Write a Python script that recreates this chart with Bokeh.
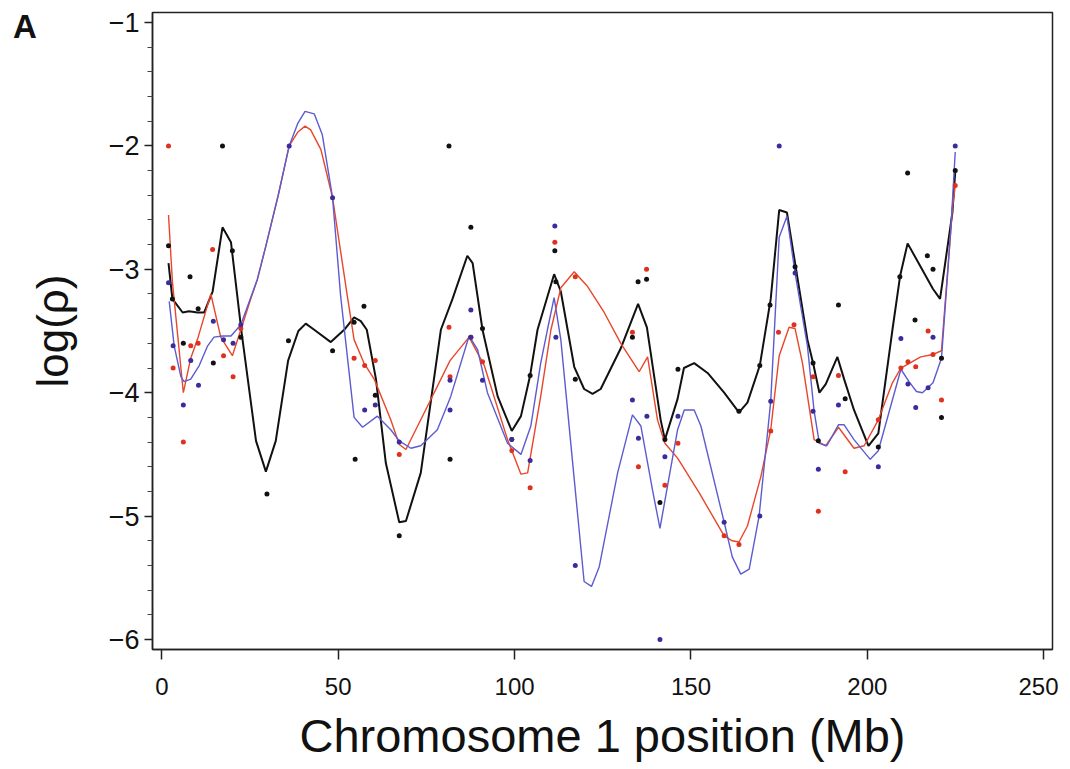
from bokeh.plotting import figure
from bokeh.models import Range1d, FixedTicker, CustomJSTickFormatter, Label
from bokeh.embed import file_html
from bokeh.resources import INLINE

# ---------------- data ----------------
x_ticks = [0, 50, 100, 150, 200, 250]
y_ticks = [-6, -5, -4, -3, -2, -1]

black_pts_x = [1.9, 3.0, 6.1, 8.0, 10.3, 14.6, 17.2, 20.0, 22.4, 29.8, 35.9, 48.4, 54.5, 54.8,
               57.3, 60.5, 67.3, 81.4, 81.7, 87.6, 90.9, 99.2, 104.4, 111.4, 111.7, 117.2,
               133.4, 135.0, 137.4, 141.2, 142.6, 146.3, 163.6, 169.5, 172.4, 179.5, 184.6,
               186.1, 191.8, 193.7, 203.1, 209.2, 211.4, 213.5, 217.0, 218.6, 221.0, 221.0, 224.9]
black_pts_y = [-2.81, -3.24, -3.60, -3.06, -3.32, -3.76, -2.00, -2.85, -3.55, -4.82, -3.58, -3.66, -3.43, -4.54,
               -3.30, -4.02, -5.16, -2.00, -4.54, -2.66, -3.48, -4.38, -3.86, -2.85, -3.10, -3.89,
               -3.55, -3.10, -3.08, -4.89, -4.38, -3.81, -4.15, -3.78, -3.29, -2.98, -3.76,
               -4.39, -3.29, -4.05, -4.44, -3.06, -2.22, -3.41, -2.89, -3.00, -3.72, -4.20, -2.20]

red_pts_x = [1.9, 3.2, 6.1, 8.2, 10.3, 14.4, 17.5, 20.2, 22.4, 54.5, 57.5, 60.5, 67.3, 81.4, 81.7,
             87.6, 90.9, 99.2, 104.4, 111.4, 117.2, 133.4, 135.1, 137.4, 142.6, 146.3, 159.4,
             163.6, 172.6, 174.8, 179.2, 184.6, 186.1, 191.8, 193.7, 203.1, 209.5, 211.5, 213.7,
             217.2, 218.6, 221.0, 224.9]
red_pts_y = [-2.00, -3.80, -4.40, -3.62, -3.60, -2.84, -3.70, -3.87, -3.48, -3.72, -3.78, -3.74, -4.50, -3.47, -3.87,
             -3.55, -3.75, -4.47, -4.77, -2.78, -3.06, -3.51, -4.60, -3.00, -4.75, -4.41, -5.16,
             -5.23, -4.31, -3.51, -3.45, -3.87, -4.96, -3.86, -4.64, -4.22, -3.80, -3.75, -3.79,
             -3.50, -3.69, -4.06, -2.32]

blue_pts_x = [1.9, 3.2, 6.1, 8.2, 10.4, 14.6, 17.5, 20.2, 22.4, 36.1, 48.4, 57.5, 60.5, 67.3, 81.7,
              81.7, 87.6, 87.6, 90.9, 99.2, 104.4, 111.4, 111.7, 117.2, 133.4, 135.1, 137.5, 141.2,
              142.6, 146.3, 159.4, 169.5, 172.6, 175.0, 179.5, 184.6, 186.1, 191.8, 203.1, 209.5,
              211.5, 213.7, 217.2, 218.6, 224.9]
blue_pts_y = [-3.11, -3.62, -4.10, -3.74, -3.94, -3.42, -3.57, -3.60, -3.45, -2.00, -2.42, -4.14, -4.10, -4.40, -3.90,
              -4.14, -3.33, -3.55, -3.90, -4.38, -4.55, -2.65, -3.55, -5.40, -4.06, -4.37, -4.19, -6.00,
              -4.52, -4.19, -5.05, -5.00, -4.07, -2.00, -3.03, -4.15, -4.62, -4.10, -4.60, -3.56,
              -3.93, -4.12, -3.96, -3.55, -2.00]

black_line_x = [1.9, 3.0, 5.9, 7.7, 10.1, 12.0, 14.4, 17.2, 19.6, 22.6, 26.7, 29.5, 32.3, 35.8, 38.7,
                40.8, 43.2, 47.9, 51.7, 54.5, 56.4, 58.1, 60.7, 63.5, 67.3, 69.2, 73.4, 79.1, 82.4,
                86.6, 88.1, 90.9, 95.2, 99.2, 101.8, 104.4, 106.5, 111.2, 113.1, 116.9, 119.7, 122.1,
                124.4, 130.1, 135.0, 137.5, 141.4, 142.6, 146.2, 148.0, 150.9, 154.7, 159.4, 163.6,
                166.0, 169.5, 172.6, 175.0, 177.2, 179.5, 183.0, 184.6, 186.4, 188.2, 191.5, 193.4,
                196.2, 200.3, 203.1, 207.1, 209.3, 211.4, 218.6, 220.6, 224.1, 224.9]
black_line_y = [-2.95, -3.24, -3.35, -3.34, -3.35, -3.35, -3.18, -2.66, -2.78, -3.51, -4.39, -4.64, -4.39, -3.74, -3.50,
                -3.44, -3.49, -3.59, -3.49, -3.39, -3.42, -3.49, -3.89, -4.57, -5.05, -5.04, -4.65, -3.49, -3.24,
                -2.89, -2.95, -3.49, -4.03, -4.31, -4.19, -3.86, -3.49, -3.04, -3.18, -3.79, -3.97, -4.01,
                -3.97, -3.64, -3.28, -3.47, -4.22, -4.38, -4.05, -3.80, -3.76, -3.84, -4.00, -4.16,
                -4.08, -3.78, -3.24, -2.52, -2.54, -2.95, -3.57, -3.76, -4.00, -3.93, -3.71, -3.89,
                -4.14, -4.43, -4.33, -3.49, -3.05, -2.79, -3.16, -3.24, -2.54, -2.21]

red_line_x = [1.9, 3.0, 6.1, 8.2, 10.3, 13.9, 16.7, 20.0, 22.4, 25.2, 27.1, 29.5, 33.0, 36.1, 38.5, 40.6,
              42.2, 45.1, 48.4, 52.6, 54.5, 57.3, 60.2, 64.9, 67.3, 69.2, 75.3, 81.7, 87.1, 91.4,
              98.0, 101.8, 103.7, 107.4, 110.3, 113.1, 116.9, 120.7, 125.4, 130.1, 135.3, 137.7,
              140.5, 142.6, 146.2, 152.3, 159.4, 161.7, 163.6, 166.0, 169.8, 172.6, 175.0, 177.8,
              179.5, 181.6, 184.9, 188.2, 191.8, 196.2, 199.1, 203.1, 207.1, 209.5, 215.1, 218.6,
              221.0, 224.1, 224.9]
red_line_y = [-2.56, -3.10, -4.00, -3.72, -3.55, -3.20, -3.55, -3.70, -3.49, -3.24, -3.08, -2.81, -2.40, -2.00, -1.89, -1.84,
              -1.87, -2.03, -2.42, -3.22, -3.57, -3.76, -3.89, -4.22, -4.42, -4.46, -4.11, -3.74, -3.55, -3.78,
              -4.38, -4.66, -4.65, -4.03, -3.49, -3.15, -3.02, -3.14, -3.35, -3.60, -3.83, -3.71,
              -4.22, -4.41, -4.53, -4.81, -5.16, -5.20, -5.21, -5.08, -4.68, -4.30, -3.70, -3.47,
              -3.48, -3.76, -4.38, -4.43, -4.28, -4.45, -4.43, -4.22, -3.92, -3.80, -3.71, -3.69,
              -3.66, -2.51, -2.32]

blue_line_x = [2.1, 3.5, 5.4, 6.3, 8.2, 10.6, 13.0, 14.8, 17.2, 19.6, 22.4, 27.1, 29.5, 33.0, 36.1, 38.5,
               40.6, 43.2, 45.5, 48.4, 50.7, 54.5, 56.9, 61.1, 64.9, 67.3, 70.6, 73.4, 78.1, 81.9,
               87.1, 89.5, 92.3, 98.0, 101.8, 104.6, 107.4, 109.3, 111.2, 113.1, 116.9, 119.7, 121.8,
               124.0, 129.2, 133.4, 135.8, 139.1, 141.2, 146.2, 148.1, 150.9, 152.8, 159.4, 161.7,
               164.1, 166.5, 169.3, 172.6, 175.0, 177.2, 179.5, 183.0, 184.9, 186.4, 188.5, 191.8,
               193.4, 196.2, 200.8, 203.1, 209.5, 211.8, 213.9, 215.6, 218.6, 221.0, 223.6, 224.9]
blue_line_y = [-3.26, -3.62, -3.87, -3.91, -3.89, -3.78, -3.62, -3.55, -3.54, -3.54, -3.45, -3.08, -2.81, -2.40, -2.00, -1.82,
               -1.72, -1.74, -1.91, -2.42, -3.22, -4.20, -4.28, -4.19, -4.30, -4.39, -4.45, -4.43, -4.30, -4.03,
               -3.54, -3.65, -4.00, -4.41, -4.50, -4.27, -3.76, -3.49, -3.23, -3.57, -4.70, -5.53, -5.57,
               -5.41, -4.65, -4.18, -4.27, -4.79, -5.10, -4.30, -4.14, -4.14, -4.27, -5.05, -5.33,
               -5.47, -5.43, -5.00, -4.07, -2.74, -2.57, -3.03, -3.62, -4.15, -4.41, -4.43, -4.26,
               -4.26, -4.38, -4.54, -4.47, -3.81, -3.91, -3.99, -4.00, -3.92, -3.72, -2.70, -2.05]

panel_letter = "A"

# ---------------- styling ----------------
BLACK = "#111111"
RED_LINE = "#e8462a"
RED_DOT = "#e0301e"
BLUE_LINE = "#5c5cd0"
BLUE_DOT = "#3a2c9c"
FONT = "Liberation Sans"

BL, BT, BB, BR = 152, 12, 115, 6
FW, FH = 900, 637

p = figure(frame_width=FW, frame_height=FH,
           x_range=Range1d(-2.64, 252.47), y_range=Range1d(-6.081, -0.919),
           output_backend="svg", toolbar_location=None,
           min_border_left=BL, min_border_right=BR, min_border_top=BT, min_border_bottom=BB)

p.xgrid.visible = False
p.ygrid.visible = False
p.outline_line_color = "#222222"
p.outline_line_width = 1.5
p.outline_line_alpha = 1.0
p.background_fill_color = "white"
p.border_fill_color = "white"

# lines
p.line(black_line_x, black_line_y, line_color=BLACK, line_width=2)
p.line(red_line_x, red_line_y, line_color=RED_LINE, line_width=1.4)
p.line(blue_line_x, blue_line_y, line_color=BLUE_LINE, line_width=1.4)

# points
p.scatter(black_pts_x, black_pts_y, size=5, fill_color=BLACK, line_color=None)
p.scatter(red_pts_x, red_pts_y, size=5, fill_color=RED_DOT, line_color=None)
p.scatter(blue_pts_x, blue_pts_y, size=5, fill_color=BLUE_DOT, line_color=None)

# x axis
xa = p.xaxis[0]
xa.ticker = FixedTicker(ticks=x_ticks)
xa.axis_label = "Chromosome 1 position (Mb)"
xa.axis_label_text_font = FONT
xa.axis_label_text_font_size = "47px"
xa.axis_label_text_font_style = "normal"
xa.axis_label_text_color = "#111111"
xa.axis_label_standoff = 11
xa.major_label_text_font = FONT
xa.major_label_text_font_size = "24px"
xa.major_label_text_color = "#111111"
xa.major_label_standoff = 18
xa.major_tick_in = 0
xa.major_tick_out = 10
xa.minor_tick_in = 0
xa.minor_tick_out = 0
xa.axis_line_color = "#222222"
xa.axis_line_width = 1.5
xa.major_tick_line_color = "#222222"
xa.major_tick_line_width = 1.5

# y axis
ya = p.yaxis[0]
ya.ticker = FixedTicker(ticks=y_ticks,
                        minor_ticks=[-5.8, -5.6, -5.4, -5.2, -4.8, -4.6, -4.4, -4.2,
                                     -3.8, -3.6, -3.4, -3.2, -2.8, -2.6, -2.4, -2.2,
                                     -1.8, -1.6, -1.4, -1.2])
ya.formatter = CustomJSTickFormatter(code="return (tick < 0 ? '\u2212' : '') + Math.abs(tick).toString();")
ya.axis_label = "log(\u03c1)"
ya.axis_label_text_font = FONT
ya.axis_label_text_font_size = "44px"
ya.axis_label_text_font_style = "normal"
ya.axis_label_text_color = "#111111"
ya.axis_label_standoff = 29
ya.major_label_text_font = FONT
ya.major_label_text_font_size = "27px"
ya.major_label_text_color = "#111111"
ya.major_label_standoff = 5
ya.major_tick_in = 0
ya.major_tick_out = 8
ya.minor_tick_in = 0
ya.minor_tick_out = 5
ya.axis_line_color = "#222222"
ya.axis_line_width = 1.5
ya.major_tick_line_color = "#222222"
ya.major_tick_line_width = 1.5
ya.minor_tick_line_color = "#444444"
ya.minor_tick_line_width = 1

# panel letter placed in the left side panel (not clipped to the frame)
p.add_layout(Label(x=-42.2, y=-1.03, text=panel_letter, text_font=FONT, text_font_style="bold",
                   text_font_size="33px", text_baseline="middle", text_align="left",
                   text_color="#111111"), "left")

open("out.html", "w").write(file_html(p, INLINE))
